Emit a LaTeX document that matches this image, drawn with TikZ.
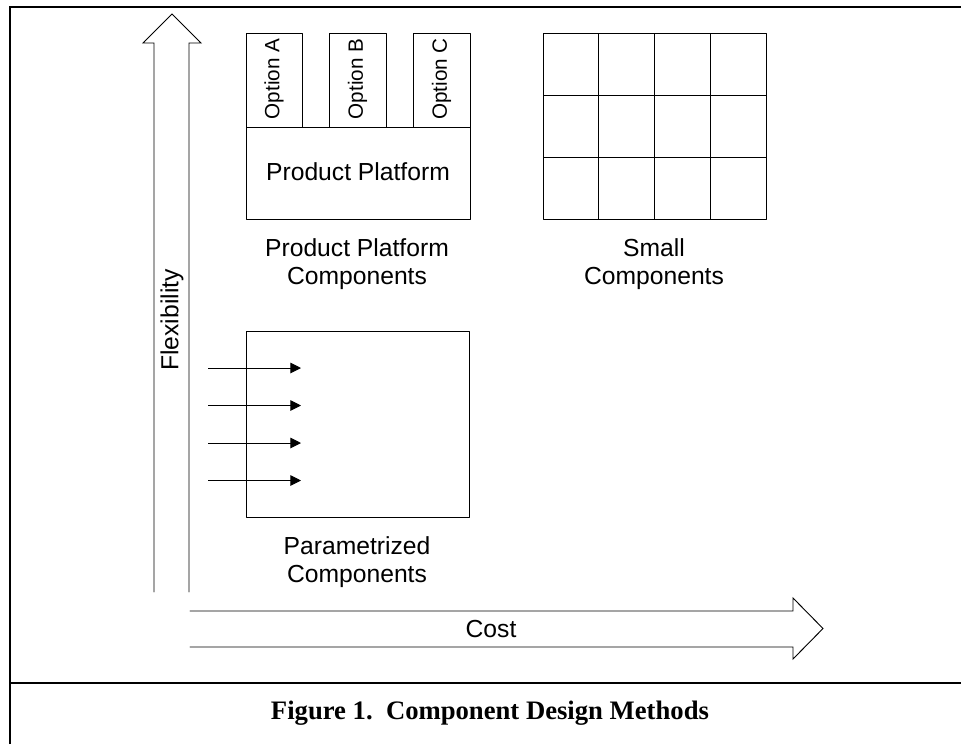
\documentclass[tikz,border=0pt]{standalone}
\usepackage{fontspec}
\setmainfont{Liberation Serif}
\setsansfont{Liberation Sans}
\usetikzlibrary{arrows.meta,calc}
\usepackage{tkz-euclide}
\definecolor{LineClr}{rgb}{0,0,0}
\definecolor{FrameClr}{rgb}{0,0,0}

\begin{document}
\begin{tikzpicture}[x=0.75pt,y=-0.75pt,
  lbl/.style={font=\sffamily\fontsize{18.5}{21.5}\selectfont,align=center,inner sep=0pt},
  optlbl/.style={font=\sffamily\fontsize{15.5}{18}\selectfont,inner sep=0pt,rotate=90},
  thin/.style={line width=0.7pt,color=LineClr},
  frame/.style={line width=1.7pt,color=FrameClr}]
\useasboundingbox (0,0) rectangle (961,744);
\tkzSetUpLine[line width=0.7pt,color=LineClr]

% frame and caption rule
\tkzDefPoints{10/744/F0,10/7/F1,961/7/F2,10/683/F3,961/683/F4}
\draw[frame] (F0) -- (F1) -- (F2);
\draw[frame] (F3) -- (F4);

% block arrows
\tkzDefPoints{154/592/V0,154/43/V1,143/43/V2,172/14/V3,201/43/V4,189/43/V5,189/592/V6}
\tkzDefPoints{190/611/H0,793/611/H1,793/598/H2,823/628.5/H3,793/659/H4,793/647/H5,190/647/H6}
\tkzDrawPolySeg(V0,V1,V2,V3,V4,V5,V6)
\tkzDrawPolySeg(H0,H1,H2,H3,H4,H5,H6)

% product platform with options
\tkzDefPoints{246/127/P1,470/127/P2,470/219/P3,246/219/P4}
\tkzDefPoints{246/33/A1,302/33/A2,302/127/A3,246/127/A4}
\tkzDefPoints{329/33/B1,386/33/B2,386/127/B3,329/127/B4}
\tkzDefPoints{413/33/C1,470/33/C2,470/127/C3,413/127/C4}
\tkzDrawPolygon(P1,P2,P3,P4)
\tkzDrawPolygon(A1,A2,A3,A4)
\tkzDrawPolygon(B1,B2,B3,B4)
\tkzDrawPolygon(C1,C2,C3,C4)

% small components grid
\tkzDefPoints{543/33/G1,766/33/G2,766/219/G3,543/219/G4}
\tkzDrawPolygon(G1,G2,G3,G4)
\foreach \x in {598.75,654.5,710.25}
  \draw[thin] (\x,33) -- (\x,219);
\foreach \y in {95,157}
  \draw[thin] (543,\y) -- (766,\y);

% parametrized box and its inputs
\tkzDefPoints{246/331/Q1,469/331/Q2,469/517/Q3,246/517/Q4}
\tkzDrawPolygon(Q1,Q2,Q3,Q4)
\foreach \i/\y in {1/368,2/405.5,3/443,4/480.5}{
  \coordinate (s\i) at (208,\y);
  \coordinate (e\i) at (301,\y);
  \draw[thin,-{Triangle[length=8pt,width=8pt]}] (s\i) -- (e\i);
}

% labels
\node[optlbl] (optA) at (274,79) {Option A};
\node[optlbl] (optB) at (357.5,79) {Option B};
\node[optlbl] (optC) at (441.5,79) {Option C};
\node[lbl] (platform) at (358,172) {Product Platform};
\node[lbl] (ppcomp) at (357,264) {Product Platform\\Components};
\node[lbl] (smallcomp) at (654,264) {Small\\Components};
\node[lbl] (paramcomp) at (357,562) {Parametrized\\Components};
\node[lbl,rotate=90] (flex) at (172,320) {Flexibility};
\node[lbl] (cost) at (491,629) {Cost};
\node[font=\bfseries\fontsize{20}{24}\selectfont,inner sep=0pt] (caption) at (490,713)
  {Figure 1.\ \ Component Design Methods};

\end{tikzpicture}
\end{document}
